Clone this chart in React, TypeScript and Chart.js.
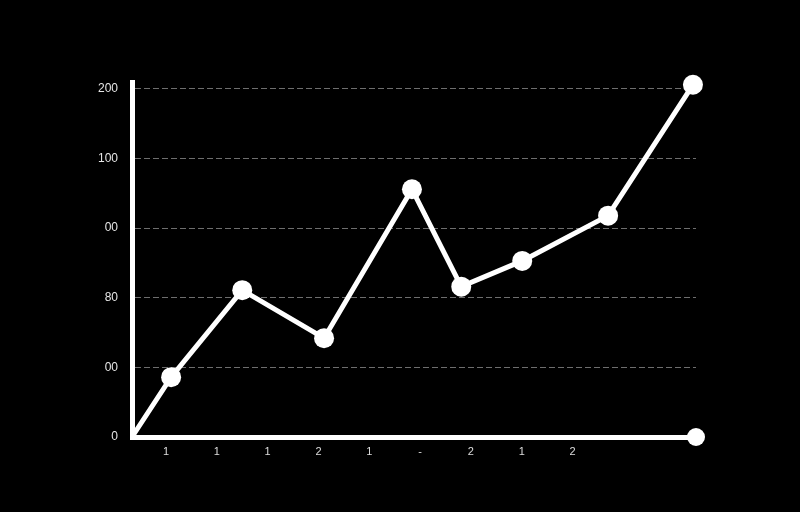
import React, { useEffect, useRef } from "react";
import { Chart, registerables } from "chart.js";

Chart.register(...registerables);

// Data (x in axis units, y in grid-step units)
const pointX = [0, 0.77, 2.17, 3.78, 5.51, 6.48, 7.68, 9.37, 11.04];
const pointY = [0, 0.86, 2.11, 1.42, 3.56, 2.16, 2.53, 3.18, 5.06];
const yTickValues = [0, 1, 2, 3, 4, 5];
const yTickLabels = ["0", "00", "80", "00", "100", "200"];
const xTickValues = [0.67, 1.67, 2.67, 3.67, 4.67, 5.67, 6.67, 7.67, 8.67];
const xTickLabels = ["1", "1", "1", "2", "1", "-", "2", "1", "2"];
const axisEnd = [{ x: 11.1, y: 0 }];

export default function App() {
  const ref = useRef<HTMLCanvasElement | null>(null);
  useEffect(() => {
    document.body.style.margin = "0";
    document.body.style.background = "#000";
    const ctx = ref.current!.getContext("2d")!;
    const chart = new Chart(ctx, {
      type: "scatter",
      data: {
        datasets: [
          {
            data: pointX.map((x, i) => ({ x, y: pointY[i] })),
            showLine: true,
            borderColor: "#fff",
            backgroundColor: "#fff",
            borderWidth: 5,
            pointRadius: pointX.map((_, i) => (i === 0 ? 0 : 10)),
            pointBorderWidth: 0,
            pointBackgroundColor: "#fff",
            clip: false,
          } as any,
          {
            data: axisEnd,
            backgroundColor: "#fff",
            borderColor: "#fff",
            pointRadius: 9,
            pointBorderWidth: 0,
            clip: false,
          } as any,
        ],
      },
      options: {
        animation: false,
        responsive: false,
        maintainAspectRatio: false,
        layout: { padding: { left: 0, top: 82, right: 104, bottom: 0 } },
        plugins: { legend: { display: false }, tooltip: { enabled: false } },
        scales: {
          x: {
            type: "linear",
            min: 0,
            max: 11.1,
            afterBuildTicks: (s: any) => {
              s.ticks = xTickValues.map((v) => ({ value: v }));
            },
            afterFit: (s: any) => {
              s.height = 75;
            },
            grid: { display: false, drawTicks: false },
            border: { display: true, color: "#fff", width: 5 },
            ticks: {
              color: "#ddd",
              padding: 8,
              autoSkip: false,
              maxRotation: 0,
              font: { family: "Liberation Sans", size: 11 },
              callback: (_v: any, i: number) => xTickLabels[i],
            },
          },
          y: {
            type: "linear",
            min: 0,
            max: 5.1,
            afterBuildTicks: (s: any) => {
              s.ticks = yTickValues.map((v) => ({ value: v }));
            },
            afterFit: (s: any) => {
              s.width = 132;
            },
            grid: {
              drawTicks: false,
              color: (c: any) => (c.tick && c.tick.value === 0 ? "rgba(0,0,0,0)" : "#6e6e6e"),
              lineWidth: 1,
            },
            border: { display: true, color: "#fff", width: 5, dash: [6, 3] },
            ticks: {
              color: "#e6e6e6",
              padding: 14,
              font: { family: "Liberation Sans", size: 12 },
              callback: (_v: any, i: number) => yTickLabels[i],
            },
          },
        },
      },
    });
    return () => chart.destroy();
  }, []);
  return (
    <div style={{ width: 800, height: 512, background: "#000" }}>
      <canvas ref={ref} width={800} height={512} style={{ display: "block" }} />
    </div>
  );
}
